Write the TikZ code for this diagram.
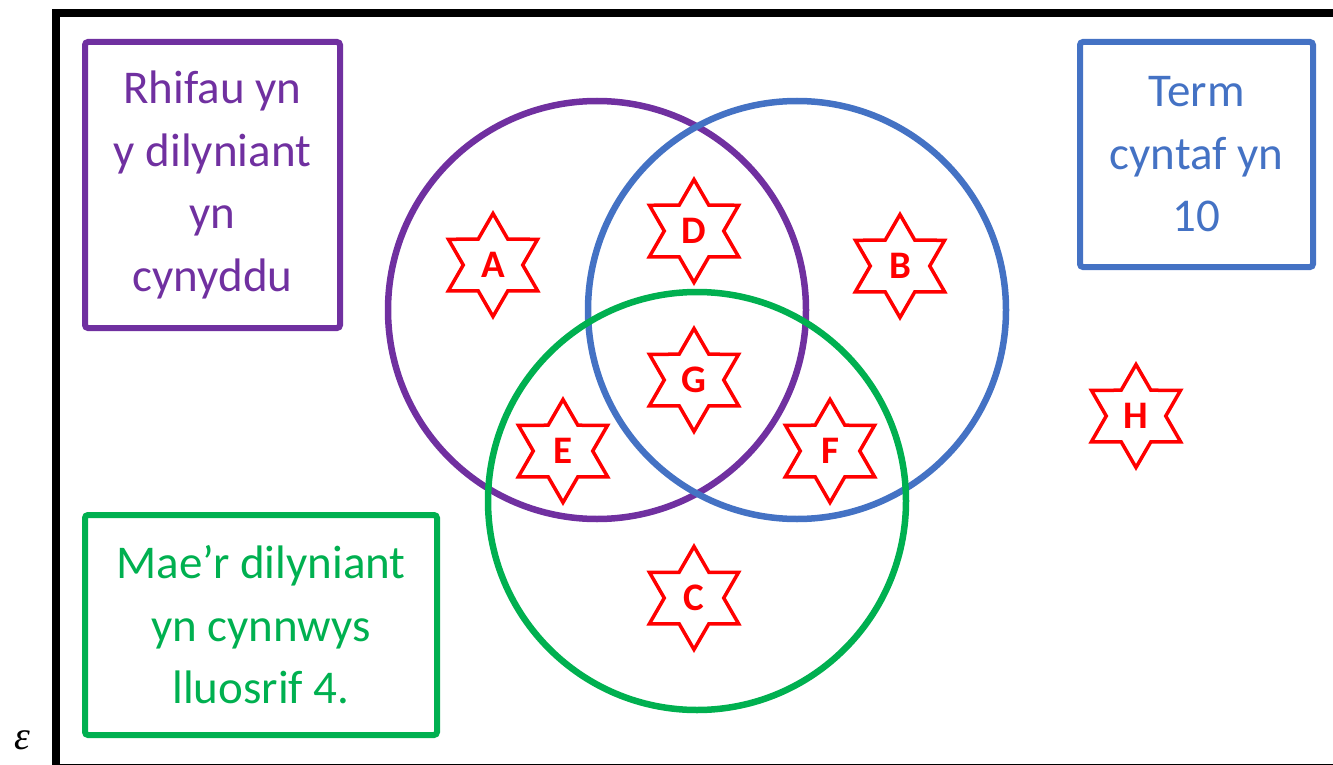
\documentclass[tikz,border=0pt]{standalone}
\usepackage{fontspec}
\setmainfont{Carlito}
\newfontfamily\epsfont{Liberation Serif}
\usetikzlibrary{shapes.geometric}
\definecolor{vpurple}{HTML}{7030A0}
\definecolor{vblue}{HTML}{4472C4}
\definecolor{vgreen}{HTML}{00B050}
\tikzset{
  setcircle/.style={draw, line width=6.5pt},
  labelbox/.style={draw, line width=6pt, rounded corners=3pt, align=center, inner sep=0pt,
    font=\fontsize{47}{62.5}\selectfont},
  starnode/.style={star, star points=6, star point ratio=1.732, draw=red, line width=3.5pt,
    minimum size=103pt, inner sep=0pt, text=red, font=\fontsize{39}{40}\selectfont\bfseries}
}
\begin{document}
\begin{tikzpicture}[x=1pt,y=-1pt]
\useasboundingbox (0,0) rectangle (1333,765);
\begin{scope}
\clip (0,0) rectangle (1333,765);
\draw[line width=8pt] (56,13) rectangle (1345,768);
\end{scope}
\node (eps) at (22,740) {\epsfont\itshape\fontsize{40}{40}\selectfont ε};
% circles
\draw[setcircle, vpurple] (597,310) circle (209);
\draw[setcircle, vblue] (797,310) circle (209);
\draw[setcircle, vgreen] (697,501) circle (209);
% boxes
\node[labelbox, vpurple, minimum width=255pt, minimum height=286pt] (pbox) at (212.5,185)
  {Rhifau yn\\y dilyniant\\yn\\cynyddu};
\node[labelbox, vblue, minimum width=233pt, minimum height=225pt] (bbox) at (1196.5,154.5)
  {Term\\cyntaf yn\\10};
\node[labelbox, vgreen, minimum width=352pt, minimum height=220pt] (gbox) at (261,625)
  {Mae’r dilyniant\\yn cynnwys\\lluosrif 4.};
% stars
\node[starnode] (A) at (493,265) {A};
\node[starnode] (D) at (694,231) {D};
\node[starnode] (B) at (900,266) {B};
\node[starnode] (G) at (694,380) {G};
\node[starnode] (E) at (563,451) {E};
\node[starnode] (F) at (830,451) {F};
\node[starnode] (C) at (694,598) {C};
\node[starnode] (H) at (1136,416) {H};
\end{tikzpicture}
\end{document}
